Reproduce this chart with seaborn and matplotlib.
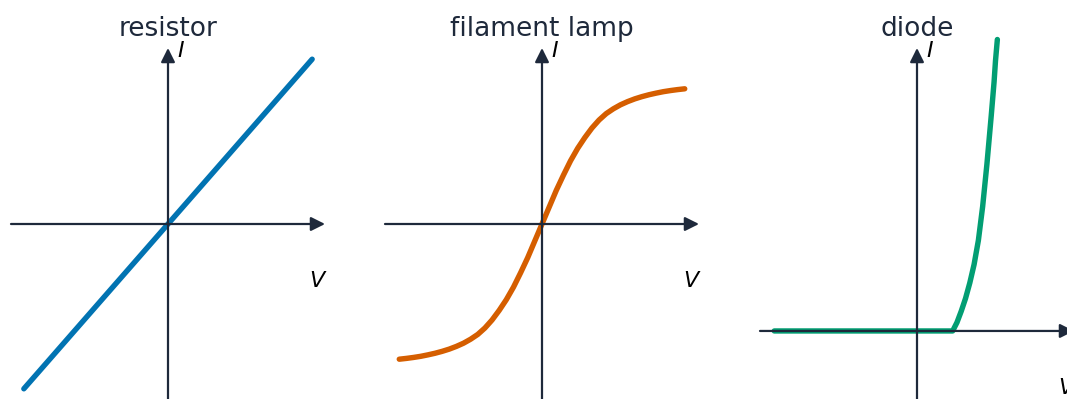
import matplotlib
matplotlib.use("Agg")
import matplotlib.pyplot as plt
import pandas as pd
import seaborn as sns

sns.set_theme(style="white")
plt.rcParams["font.family"] = ["DejaVu Sans"]

INK = "#1e293b"

# I-V characteristics (arbitrary units)
resistor_v = [-1.01, 0.0, 1.01]
resistor_i = [-1.03, 0.0, 1.03]

lamp_v = [-1.0, -0.95, -0.9, -0.85, -0.8, -0.75, -0.7, -0.65, -0.6, -0.55, -0.5,
          -0.45, -0.4, -0.35, -0.3, -0.25, -0.2, -0.15, -0.1, -0.05, 0.0,
          0.05, 0.1, 0.15, 0.2, 0.25, 0.3, 0.35, 0.4, 0.45, 0.5,
          0.55, 0.6, 0.65, 0.7, 0.75, 0.8, 0.85, 0.9, 0.95, 1.0]
lamp_i = [-0.845, -0.84, -0.834, -0.827, -0.818, -0.808, -0.796, -0.782, -0.765, -0.745, -0.72,
          -0.69, -0.65, -0.60, -0.54, -0.473, -0.395, -0.305, -0.21, -0.105, 0.0,
          0.105, 0.21, 0.305, 0.395, 0.473, 0.54, 0.60, 0.65, 0.69, 0.72,
          0.745, 0.765, 0.782, 0.796, 0.808, 0.818, 0.827, 0.834, 0.84, 0.845]

diode_v = [-1.0, 0.25, 0.28, 0.31, 0.34, 0.37, 0.40, 0.43, 0.46, 0.49, 0.52, 0.54, 0.55, 0.563]
diode_i = [0.0, 0.0, 0.03, 0.07, 0.115, 0.17, 0.235, 0.32, 0.44, 0.59, 0.76, 0.88, 0.955, 1.03]

titles = ["resistor", "filament lamp", "diode"]
colors = ["#0173b2", "#d55e00", "#029e73"]
series = [(resistor_v, resistor_i), (lamp_v, lamp_i), (diode_v, diode_i)]
ylims = [(-1.1, 1.1), (-1.1, 1.1), (-0.244, 1.0)]
xlim = (-1.1, 1.1)

fig = plt.figure(figsize=(10.67, 3.99), dpi=100)
W, H = 1067, 399
lefts = [11, 385, 760]

for left, title, color, (v, i), ylim in zip(lefts, titles, colors, series, ylims):
    ax = fig.add_axes([left / W, (H - 400) / H, 314 / W, 352 / H])
    df = pd.DataFrame({"V": v, "I": i})
    sns.lineplot(data=df, x="V", y="I", ax=ax, color=color, lw=3.9,
                 estimator=None, sort=False, clip_on=False,
                 solid_capstyle="round", solid_joinstyle="round")
    ax.set_xlim(*xlim)
    ax.set_ylim(*ylim)
    ax.set_xticks([])
    ax.set_yticks([])
    ax.set_xlabel("")
    ax.set_ylabel("")
    sns.despine(ax=ax, left=True, bottom=True, top=True, right=True)
    ax.patch.set_alpha(0)

    # axes drawn as arrows through the origin
    arrow = dict(arrowstyle="-|>,head_length=0.6,head_width=0.3",
                 mutation_scale=14, lw=1.6, color=INK, shrinkA=0, shrinkB=0)
    ax.annotate("", xy=(xlim[1], 0), xytext=(xlim[0], 0),
                arrowprops=arrow, annotation_clip=False)
    ax.annotate("", xy=(0, ylim[1]), xytext=(0, ylim[0]),
                arrowprops=arrow, annotation_clip=False)

    ax.annotate("I", xy=(0, ylim[1]), xytext=(9, -9), textcoords="offset pixels",
                ha="left", va="baseline", fontsize=16, style="italic",
                color="black", annotation_clip=False)
    ax.annotate("V", xy=(xlim[1], 0), xytext=(-8, -63), textcoords="offset pixels",
                ha="center", va="baseline", fontsize=16, style="italic",
                color="black", annotation_clip=False)

    ax.set_title(title, fontsize=19, color=INK, pad=9)

fig.savefig("out.png", dpi=100)
